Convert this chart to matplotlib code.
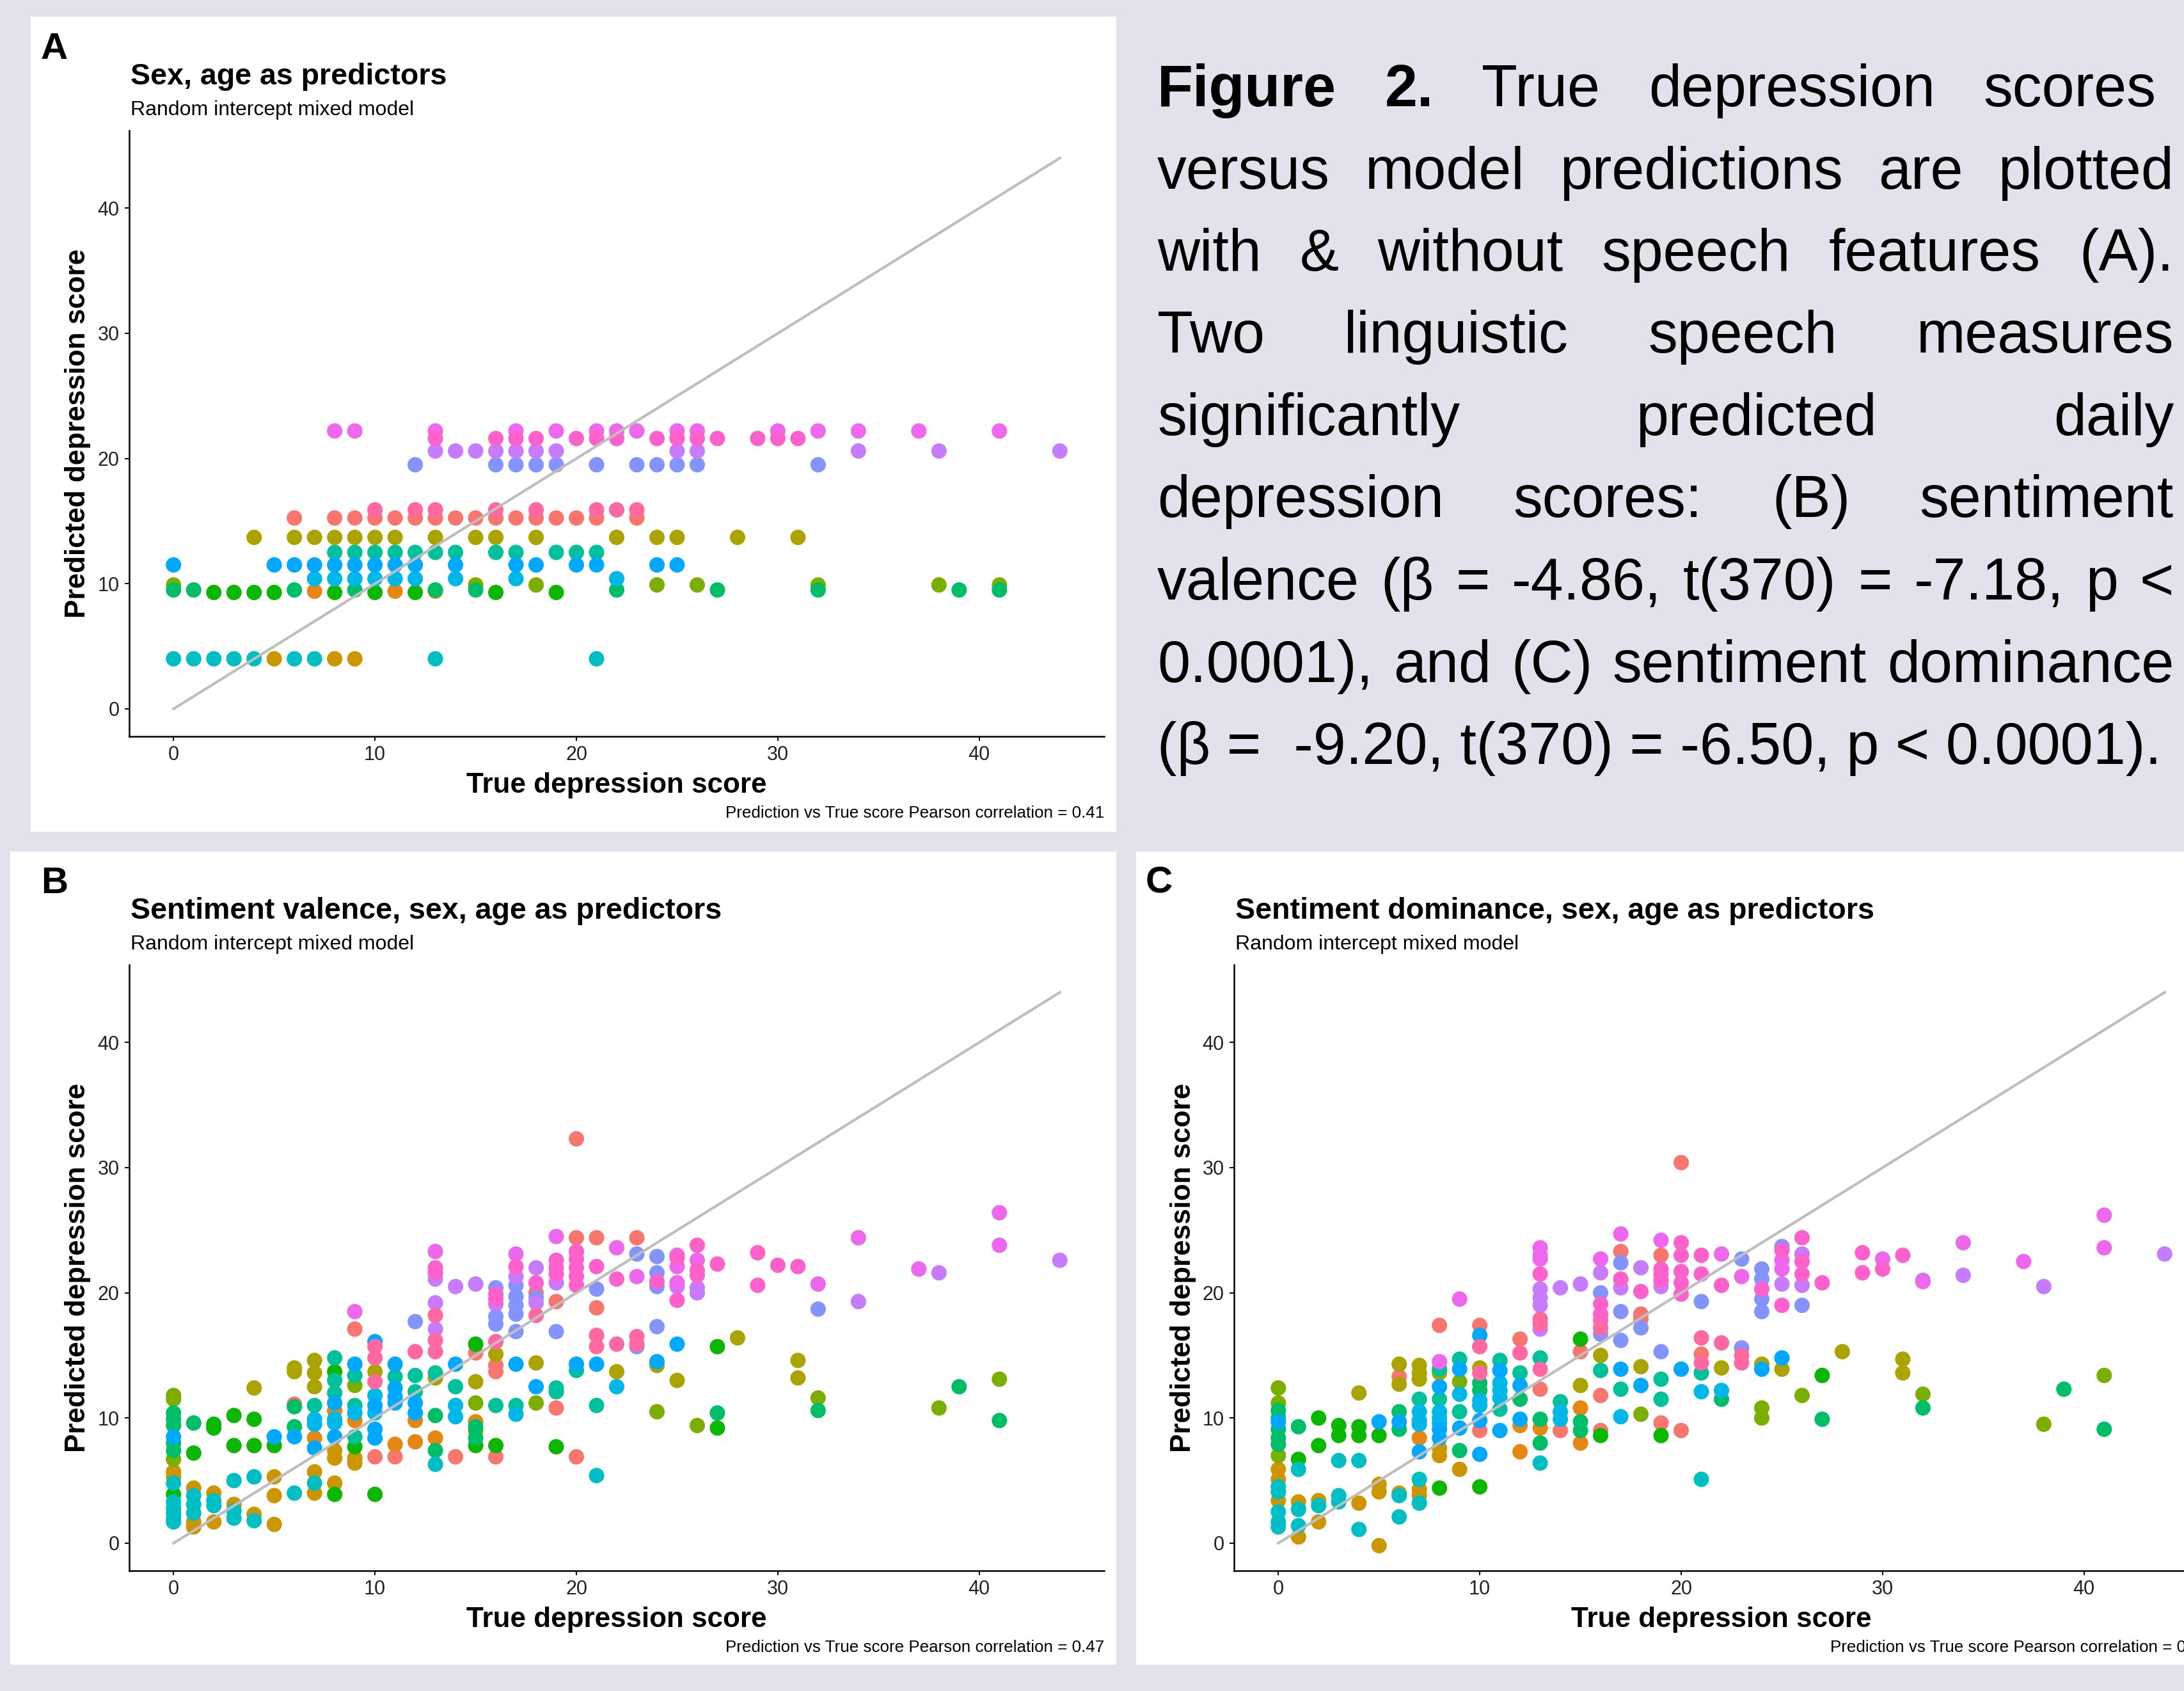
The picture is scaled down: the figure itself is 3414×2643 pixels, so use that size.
# Figure 2: true vs predicted depression scores, three mixed models
import matplotlib
matplotlib.use('Agg')
import matplotlib.pyplot as plt
from matplotlib.patches import Rectangle

plt.rcParams['font.family'] = ['Liberation Sans', 'DejaVu Sans']

# ggplot hue palette, one colour per participant (16 participants)
participant_colors = ['#F8766D', '#E68613', '#CD9600', '#ABA300', '#7CAE00', '#0CB702',
                      '#00BE67', '#00C19A', '#00BFC4', '#00B8E7', '#00A9FF', '#8494FF',
                      '#C77CFF', '#ED68ED', '#FF61CC', '#FF68A1']

# Panel A: random intercept model, one predicted value per participant
a_pred = [15.25, 9.4, 4.0, 13.7, 9.9, 9.3, 9.5, 12.5, 4.0, 10.4, 11.5, 19.5, 20.6, 22.2, 21.6, 15.9]
a_true = [
    [6, 8, 9, 10, 11, 12, 13, 14, 15, 16, 17, 18, 19, 20, 21, 23],
    [7, 11, 13],
    [5, 8, 9],
    [4, 6, 7, 8, 9, 10, 11, 13, 15, 16, 18, 22, 24, 25, 28, 31],
    [0, 15, 18, 24, 26, 32, 38, 41],
    [2, 3, 4, 5, 8, 10, 12, 16, 19],
    [0, 1, 6, 9, 13, 15, 22, 27, 32, 39, 41],
    [8, 9, 10, 11, 12, 13, 14, 16, 17, 19, 20, 21],
    [0, 1, 2, 3, 4, 6, 7, 13, 21],
    [7, 8, 9, 10, 11, 12, 14, 17, 22],
    [0, 5, 6, 7, 8, 9, 10, 11, 12, 14, 17, 18, 20, 21, 24, 25],
    [12, 16, 17, 18, 19, 21, 23, 24, 25, 26, 32],
    [13, 14, 15, 16, 17, 18, 19, 25, 26, 34, 38, 44],
    [8, 9, 13, 17, 19, 21, 22, 23, 25, 26, 30, 32, 34, 37, 41],
    [13, 16, 17, 18, 20, 21, 22, 24, 25, 26, 27, 29, 30, 31],
    [10, 12, 13, 16, 18, 21, 22, 23],
]

# Panel B: (true score, predicted score, participant id 1-16)
b_points = [
    (0, 11.8, 5), (0, 11.5, 5), (0, 10.4, 7), (0, 9.9, 7), (0, 9.4, 7), (0, 8.5, 11), (0, 8.0, 7),
    (0, 7.4, 7), (0, 6.7, 5), (0, 5.7, 3), (0, 5.3, 3), (0, 4.8, 9), (0, 3.9, 6), (0, 3.3, 9),
    (0, 2.8, 9), (0, 2.4, 9), (0, 2.0, 9), (0, 1.7, 9),
    (1, 9.6, 7), (1, 7.2, 6), (1, 4.4, 3), (1, 3.8, 9), (1, 3.1, 9), (1, 2.4, 9), (1, 1.7, 3), (1, 1.3, 3),
    (2, 9.5, 6), (2, 9.2, 6), (2, 4.0, 3), (2, 3.4, 9), (2, 3.0, 9), (2, 1.7, 3),
    (3, 10.2, 6), (3, 7.8, 6), (3, 5.0, 9), (3, 3.1, 3), (3, 2.6, 9), (3, 2.0, 9),
    (4, 12.4, 4), (4, 9.9, 6), (4, 7.8, 6), (4, 5.3, 9), (4, 2.3, 3), (4, 1.8, 9),
    (5, 8.5, 11), (5, 7.8, 6), (5, 5.3, 3), (5, 3.8, 3), (5, 1.5, 3),
    (6, 14.0, 4), (6, 13.7, 4), (6, 11.1, 1), (6, 10.9, 7), (6, 9.3, 7), (6, 8.5, 11), (6, 4.0, 9),
    (7, 14.6, 4), (7, 13.6, 4), (7, 12.5, 4), (7, 11.0, 8), (7, 9.9, 10), (7, 9.5, 10), (7, 8.4, 2),
    (7, 7.6, 11), (7, 5.7, 3), (7, 4.8, 9), (7, 4.0, 3),
    (8, 14.8, 8), (8, 13.7, 6), (8, 13.0, 8), (8, 12.0, 8), (8, 11.2, 11), (8, 10.6, 2), (8, 9.9, 10),
    (8, 9.6, 10), (8, 8.5, 11), (8, 7.4, 3), (8, 6.8, 3), (8, 4.8, 3), (8, 3.9, 6),
    (9, 18.5, 14), (9, 17.1, 1), (9, 14.3, 11), (9, 13.4, 8), (9, 12.6, 5), (9, 11.0, 8), (9, 10.4, 10),
    (9, 9.8, 2), (9, 8.5, 8), (9, 7.7, 6), (9, 6.8, 3), (9, 6.4, 3),
    (10, 16.1, 11), (10, 15.7, 16), (10, 14.8, 16), (10, 13.7, 4), (10, 12.9, 16), (10, 11.8, 10),
    (10, 11.0, 11), (10, 10.4, 10), (10, 9.1, 11), (10, 8.4, 11), (10, 6.9, 1), (10, 3.9, 6),
    (11, 14.3, 11), (11, 13.3, 8), (11, 12.4, 11), (11, 11.7, 11), (11, 11.2, 11), (11, 7.9, 2), (11, 6.9, 1),
    (12, 17.7, 12), (12, 15.3, 16), (12, 13.4, 8), (12, 12.1, 8), (12, 11.2, 11), (12, 10.4, 11),
    (12, 9.8, 2), (12, 8.1, 2),
    (13, 23.3, 14), (13, 22.0, 15), (13, 21.6, 15), (13, 21.1, 13), (13, 19.2, 13), (13, 18.2, 16),
    (13, 17.1, 13), (13, 16.2, 16), (13, 15.3, 16), (13, 13.6, 8), (13, 13.2, 4), (13, 10.2, 7),
    (13, 8.4, 2), (13, 7.4, 7), (13, 6.3, 9),
    (14, 20.5, 13), (14, 14.3, 11), (14, 12.5, 8), (14, 11.0, 10), (14, 10.1, 10), (14, 6.9, 1),
    (15, 20.7, 13), (15, 15.9, 6), (15, 15.2, 1), (15, 12.9, 4), (15, 11.2, 5), (15, 9.7, 2),
    (15, 9.3, 7), (15, 9.0, 5), (15, 8.4, 7), (15, 7.8, 6),
    (16, 20.4, 12), (16, 19.9, 15), (16, 19.5, 15), (16, 19.1, 13), (16, 18.1, 12), (16, 17.5, 12),
    (16, 16.1, 16), (16, 15.1, 4), (16, 14.2, 1), (16, 13.7, 1), (16, 11.0, 8), (16, 7.8, 6), (16, 6.9, 1),
    (17, 23.1, 14), (17, 22.1, 15), (17, 21.3, 13), (17, 20.6, 12), (17, 19.7, 12), (17, 19.0, 12),
    (17, 18.3, 12), (17, 16.9, 12), (17, 14.3, 11), (17, 11.0, 8), (17, 10.3, 10),
    (18, 22.0, 13), (18, 20.8, 15), (18, 20.0, 1), (18, 19.6, 12), (18, 19.2, 13), (18, 18.2, 16),
    (18, 14.4, 4), (18, 12.5, 11), (18, 11.2, 5),
    (19, 24.5, 14), (19, 22.6, 15), (19, 22.0, 15), (19, 21.5, 15), (19, 20.8, 13), (19, 19.3, 1),
    (19, 16.9, 12), (19, 12.4, 8), (19, 12.1, 8), (19, 10.8, 1), (19, 7.7, 6),
    (20, 32.3, 1), (20, 24.4, 1), (20, 23.3, 15), (20, 22.7, 15), (20, 22.0, 15), (20, 21.3, 15),
    (20, 20.6, 15), (20, 14.3, 11), (20, 13.8, 8), (20, 6.9, 1),
    (21, 24.4, 1), (21, 22.1, 15), (21, 20.3, 12), (21, 18.8, 1), (21, 16.6, 16), (21, 15.7, 16),
    (21, 14.3, 11), (21, 11.0, 8), (21, 5.4, 9),
    (22, 23.6, 14), (22, 21.1, 15), (22, 15.9, 16), (22, 13.7, 4), (22, 12.5, 10),
    (23, 24.4, 1), (23, 23.1, 12), (23, 21.3, 14), (23, 16.5, 16), (23, 15.9, 16), (23, 15.7, 12),
    (24, 22.9, 12), (24, 21.6, 12), (24, 20.9, 15), (24, 20.5, 12), (24, 17.3, 12), (24, 14.5, 11),
    (24, 14.2, 4), (24, 10.5, 5),
    (25, 23.0, 14), (25, 22.8, 15), (25, 22.1, 14), (25, 20.8, 14), (25, 20.5, 13), (25, 19.4, 15),
    (25, 15.9, 11), (25, 13.0, 4),
    (26, 23.8, 15), (26, 22.6, 14), (26, 21.8, 15), (26, 21.4, 15), (26, 20.4, 13), (26, 20.0, 13), (26, 9.4, 5),
    (27, 22.3, 15), (27, 15.7, 6), (27, 10.4, 7), (27, 9.2, 6),
    (28, 16.4, 4), (29, 23.2, 15), (29, 20.6, 15), (30, 22.2, 15),
    (31, 22.1, 15), (31, 14.6, 4), (31, 13.2, 4),
    (32, 20.7, 14), (32, 18.7, 12), (32, 11.6, 5), (32, 10.6, 7),
    (34, 24.4, 14), (34, 19.3, 13), (37, 21.9, 14), (38, 21.6, 13), (38, 10.8, 5), (39, 12.5, 7),
    (41, 26.4, 14), (41, 23.8, 14), (41, 13.1, 5), (41, 9.8, 7), (44, 22.6, 13),
]

# Panel C: (true score, predicted score, participant id 1-16)
c_points = [
    (0, 12.4, 5), (0, 11.2, 5), (0, 10.6, 7), (0, 10.0, 7), (0, 9.7, 11), (0, 9.1, 7), (0, 8.4, 7),
    (0, 7.9, 7), (0, 7.0, 5), (0, 5.9, 3), (0, 5.1, 3), (0, 4.5, 9), (0, 4.1, 9), (0, 3.4, 3),
    (0, 2.5, 9), (0, 1.7, 9), (0, 1.3, 9),
    (1, 9.3, 7), (1, 6.7, 6), (1, 5.9, 9), (1, 3.3, 3), (1, 2.7, 9), (1, 1.4, 9), (1, 0.5, 3),
    (2, 10.0, 6), (2, 7.8, 6), (2, 3.4, 3), (2, 3.0, 9), (2, 1.7, 3),
    (3, 9.4, 6), (3, 8.6, 6), (3, 6.6, 9), (3, 3.8, 9), (3, 3.3, 9),
    (4, 12.0, 4), (4, 9.3, 6), (4, 8.6, 6), (4, 6.6, 9), (4, 3.2, 3), (4, 1.1, 9),
    (5, 9.7, 11), (5, 8.6, 6), (5, 4.7, 3), (5, 4.1, 3), (5, -0.2, 3),
    (6, 14.3, 4), (6, 13.3, 1), (6, 12.7, 4), (6, 10.5, 7), (6, 9.7, 11), (6, 9.1, 7), (6, 4.0, 3),
    (6, 3.8, 9), (6, 2.1, 9),
    (7, 14.2, 4), (7, 13.6, 4), (7, 13.1, 4), (7, 11.5, 8), (7, 10.5, 10), (7, 9.8, 10), (7, 9.5, 10),
    (7, 8.4, 2), (7, 7.3, 11), (7, 5.1, 9), (7, 4.3, 3), (7, 3.8, 3), (7, 3.2, 9),
    (8, 17.4, 1), (8, 14.5, 14), (8, 13.9, 8), (8, 13.6, 4), (8, 12.5, 11), (8, 11.5, 8), (8, 10.5, 10),
    (8, 10.0, 10), (8, 9.6, 10), (8, 9.1, 11), (8, 8.4, 11), (8, 7.6, 3), (8, 7.0, 3), (8, 4.4, 6),
    (9, 19.5, 14), (9, 14.7, 8), (9, 13.9, 11), (9, 12.9, 5), (9, 11.9, 10), (9, 10.5, 8), (9, 9.2, 11),
    (9, 7.4, 7), (9, 5.9, 3),
    (10, 17.4, 1), (10, 16.6, 11), (10, 15.7, 16), (10, 14.0, 4), (10, 13.6, 16), (10, 12.8, 7),
    (10, 12.2, 7), (10, 11.4, 10), (10, 11.0, 10), (10, 9.8, 11), (10, 9.0, 1), (10, 7.1, 11), (10, 4.5, 6),
    (11, 14.6, 8), (11, 13.8, 11), (11, 12.8, 10), (11, 12.2, 10), (11, 11.6, 10), (11, 10.7, 8), (11, 9.0, 11),
    (12, 16.3, 1), (12, 15.2, 16), (12, 13.6, 8), (12, 12.6, 11), (12, 11.5, 7), (12, 9.9, 11),
    (12, 9.4, 2), (12, 7.3, 2),
    (13, 23.6, 14), (13, 23.0, 14), (13, 22.7, 14), (13, 21.5, 15), (13, 20.3, 13), (13, 19.6, 13),
    (13, 19.0, 13), (13, 17.9, 16), (13, 17.5, 16), (13, 17.1, 13), (13, 14.8, 8), (13, 13.9, 16),
    (13, 12.3, 1), (13, 9.9, 7), (13, 9.2, 2), (13, 8.0, 7), (13, 6.4, 9),
    (14, 20.4, 13), (14, 11.3, 8), (14, 10.5, 10), (14, 9.9, 10), (14, 9.0, 1),
    (15, 20.7, 13), (15, 16.3, 6), (15, 15.3, 1), (15, 12.6, 4), (15, 10.8, 2), (15, 9.7, 7),
    (15, 9.0, 7), (15, 8.0, 2),
    (16, 22.7, 14), (16, 21.6, 13), (16, 20.0, 12), (16, 19.1, 15), (16, 18.3, 15), (16, 17.8, 15),
    (16, 17.2, 16), (16, 16.7, 12), (16, 15.0, 4), (16, 13.8, 8), (16, 11.8, 1), (16, 9.0, 1), (16, 8.6, 6),
    (17, 24.7, 14), (17, 23.3, 1), (17, 22.4, 12), (17, 21.1, 15), (17, 20.4, 13), (17, 18.5, 12),
    (17, 16.2, 12), (17, 13.9, 11), (17, 12.3, 8), (17, 10.1, 10),
    (18, 22.0, 13), (18, 20.1, 15), (18, 18.3, 1), (18, 17.9, 1), (18, 17.2, 12), (18, 14.1, 4),
    (18, 12.6, 11), (18, 10.3, 5),
    (19, 24.2, 14), (19, 23.0, 1), (19, 21.9, 15), (19, 21.5, 15), (19, 21.0, 15), (19, 20.5, 13),
    (19, 15.3, 12), (19, 13.1, 8), (19, 11.5, 8), (19, 9.6, 1), (19, 8.6, 6),
    (20, 30.4, 1), (20, 24.0, 15), (20, 23.0, 15), (20, 21.7, 15), (20, 20.8, 15), (20, 19.9, 15),
    (20, 13.9, 11), (20, 9.0, 1),
    (21, 23.0, 15), (21, 21.5, 15), (21, 19.3, 12), (21, 16.4, 16), (21, 15.1, 1), (21, 14.4, 16),
    (21, 13.6, 8), (21, 12.1, 10), (21, 5.1, 9),
    (22, 23.1, 14), (22, 20.6, 15), (22, 16.0, 16), (22, 14.0, 4), (22, 12.2, 10), (22, 11.5, 7),
    (23, 22.7, 12), (23, 21.3, 14), (23, 15.6, 12), (23, 15.0, 16), (23, 14.4, 16),
    (24, 21.9, 12), (24, 21.1, 12), (24, 20.3, 15), (24, 19.5, 12), (24, 18.5, 12), (24, 14.3, 4),
    (24, 13.9, 11), (24, 10.8, 5), (24, 10.0, 5),
    (25, 23.7, 12), (25, 23.4, 15), (25, 22.6, 14), (25, 21.9, 14), (25, 20.7, 13), (25, 19.0, 15),
    (25, 14.8, 11), (25, 13.9, 4),
    (26, 24.4, 15), (26, 23.1, 13), (26, 22.5, 15), (26, 21.5, 15), (26, 20.6, 13), (26, 19.0, 12), (26, 11.8, 5),
    (27, 20.8, 15), (27, 13.4, 6), (27, 9.9, 7),
    (28, 15.3, 4), (29, 23.2, 15), (29, 21.6, 15), (30, 22.7, 14), (30, 21.9, 15),
    (31, 23.0, 15), (31, 14.7, 4), (31, 13.6, 4),
    (32, 21.0, 12), (32, 20.9, 14), (32, 11.9, 5), (32, 10.8, 7),
    (34, 24.0, 14), (34, 21.4, 13), (37, 22.5, 14), (38, 20.5, 13), (38, 9.5, 5), (39, 12.3, 7),
    (41, 26.2, 14), (41, 23.6, 14), (41, 13.4, 5), (41, 9.1, 7), (44, 23.1, 13),
]

panel_labels = ['A', 'B', 'C']
panel_titles = ['Sex, age as predictors',
                'Sentiment valence, sex, age as predictors',
                'Sentiment dominance, sex, age as predictors']
panel_corr = ['0.41', '0.47', '0.46']
ticks = [0, 10, 20, 30, 40]

caption_lines = [
    'Figure 2. True depression scores',
    'versus model predictions are plotted',
    'with & without speech features (A).',
    'Two linguistic speech measures',
    'significantly predicted daily',
    'depression scores: (B) sentiment',
    'valence (\u03b2 = -4.86, t(370) = -7.18, p <',
    '0.0001), and (C) sentiment dominance',
    '(\u03b2 =  -9.20, t(370) = -6.50, p < 0.0001).',
]

W, H = 3414, 2643
BG = '#E3E1EB'


def fx(x):
    return x / W


def fy(y):
    return 1 - y / H


fig = plt.figure(figsize=(W / 100, H / 100), dpi=100, facecolor=BG)

# white cards behind each panel (pixel boxes: left, top, right, bottom)
cards = [(48, 26, 1745, 1300), (16, 1331, 1745, 2602), (1776, 1331, 3414, 2602)]
for l, t, r, b in cards:
    fig.patches.append(Rectangle((fx(l), fy(b)), (r - l) / W, (b - t) / H,
                                 transform=fig.transFigure, facecolor='white',
                                 edgecolor='none', zorder=-5))

# panel offsets relative to panel A (pixels)
offsets = [(0, 0), (0, 1304), (1727, 1304)]


def make_panel(k, xs, ys, cols):
    dx, dy = offsets[k]
    left, top, right, bottom = 202 + dx, 204 + dy, 1726 + dx, 1151 + dy
    ax = fig.add_axes([fx(left), fy(bottom), (right - left) / W, (bottom - top) / H])
    ax.set_facecolor('none')
    ax.set_zorder(2)
    ax.scatter(xs, ys, s=300, c=cols, linewidths=0, zorder=2)
    ax.plot([0, 44], [0, 44], color='#BEBEBE', lw=3.0, zorder=3)
    ax.set_xlim(-2.2, 46.2)
    ax.set_ylim(-2.2, 46.2)
    ax.set_xticks(ticks)
    ax.set_yticks(ticks)
    for side in ['top', 'right']:
        ax.spines[side].set_visible(False)
    for side in ['left', 'bottom']:
        ax.spines[side].set_linewidth(1.8)
    ax.tick_params(direction='out', length=5, width=1.4, labelsize=22,
                   labelcolor='#222222')
    ax.tick_params(axis='x', pad=5)
    ax.tick_params(axis='y', pad=6)

    fig.text(fx(64 + dx), fy(92 + dy), panel_labels[k], fontsize=42, fontweight='bold',
             va='baseline', ha='left')
    fig.text(fx(204 + dx), fy(132 + dy), panel_titles[k], fontsize=33.5, fontweight='bold',
             va='baseline', ha='left')
    fig.text(fx(204 + dx), fy(180 + dy), 'Random intercept mixed model', fontsize=23,
             va='baseline', ha='left')
    fig.text(fx(964 + dx), fy(1239 + dy), 'True depression score', fontsize=31.7,
             fontweight='bold', va='baseline', ha='center')
    fig.text(fx(122 + dx), fy(677 + dy), 'Predicted depression score', fontsize=31.7,
             fontweight='bold', va='center', ha='center', rotation=90)
    fig.text(fx(1726 + dx), fy(1278 + dy),
             'Prediction vs True score Pearson correlation = ' + panel_corr[k],
             fontsize=18.7, va='baseline', ha='right')
    return ax


# panel A
xa, ya, ca = [], [], []
for i, xs in enumerate(a_true):
    for x in xs:
        xa.append(x)
        ya.append(a_pred[i])
        ca.append(participant_colors[i])
make_panel(0, xa, ya, ca)

for k, pts in [(1, b_points), (2, c_points)]:
    pts = sorted(pts, key=lambda p: p[2])
    make_panel(k, [p[0] for p in pts], [p[1] for p in pts],
               [participant_colors[p[2] - 1] for p in pts])

# justified caption block on the right
cap_left, cap_right = 1809, 3398
cap_size = 66
renderer = fig.canvas.get_renderer()
for i, line in enumerate(caption_lines):
    base = 166 + 128.5 * i
    if i == len(caption_lines) - 1:
        fig.text(fx(cap_left), fy(base), line, fontsize=cap_size, va='baseline', ha='left')
        continue
    words = line.split(' ')
    texts = []
    for j, w in enumerate(words):
        weight = 'bold' if (i == 0 and j < 2) else 'normal'
        texts.append(fig.text(0, fy(base), w, fontsize=cap_size, fontweight=weight,
                              va='baseline', ha='left'))
    widths = [t.get_window_extent(renderer).width for t in texts]
    right = 3370 if i == 0 else cap_right
    gap = (right - cap_left - sum(widths)) / (len(words) - 1)
    x = cap_left
    for t, w in zip(texts, widths):
        t.set_x(fx(x))
        x += w + gap

fig.savefig('out.png', dpi=100, facecolor=BG)
